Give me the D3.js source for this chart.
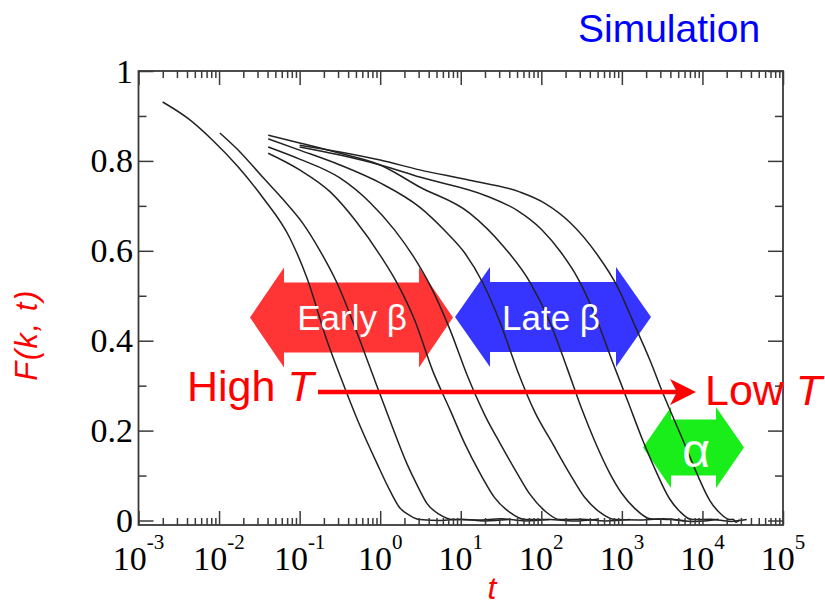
<!DOCTYPE html>
<html>
<head>
<meta charset="utf-8">
<script src="https://cdn.jsdelivr.net/npm/d3@7/dist/d3.min.js"></script>
<style>
  body { margin: 0; background: #fff; }
  text { font-family: 'Liberation Sans', Arial, sans-serif; }
  .ticklbl { font-family: 'Liberation Serif', 'Times New Roman', serif; fill: #000; }
</style>
</head>
<body>
<script>
// 0. data: each curve is [log10(t), F(k,t)]
var curve1 = [[-2.70,0.931],[-2.39,0.895],[-2.08,0.846],[-1.77,0.788],[-1.46,0.719],[-1.12,0.628],[-0.91,0.540],
  [-0.66,0.400],[-0.50,0.323],[-0.28,0.223],[-0.04,0.127],[0.12,0.067],[0.24,0.029],[0.37,0.011],[0.49,0.002],
  [0.75,0.000],[1.00,0.003],[1.30,-0.001],[1.60,0.002]];
var curve2 = [[-1.99,0.862],[-1.74,0.820],[-1.46,0.764],[-1.21,0.715],[-0.96,0.661],[-0.75,0.601],[-0.54,0.530],
  [-0.25,0.400],[-0.09,0.323],[0.12,0.223],[0.33,0.127],[0.46,0.078],[0.58,0.038],[0.74,0.013],[0.90,0.002],
  [1.20,0.001],[1.50,0.004],[1.80,-0.001],[2.10,0.002]];
var curve3 = [[-1.39,0.817],[-1.00,0.780],[-0.62,0.731],[-0.31,0.668],[0.00,0.590],[0.21,0.528],[0.43,0.445],
  [0.65,0.334],[0.87,0.245],[1.05,0.171],[1.24,0.105],[1.42,0.051],[1.61,0.018],[1.80,0.002],
  [2.10,0.002],[2.40,-0.001],[2.70,0.003]];
var curve4 = [[-1.39,0.831],[-1.00,0.804],[-0.50,0.762],[-0.13,0.708],[0.18,0.646],[0.41,0.588],[0.62,0.523],
  [0.87,0.423],[1.08,0.323],[1.30,0.234],[1.49,0.171],[1.70,0.105],[1.86,0.058],[2.04,0.022],[2.23,0.002],
  [2.50,0.003],[2.80,-0.001],[3.10,0.002]];
var curve5 = [[-1.39,0.849],[-1.00,0.824],[-0.50,0.791],[0.00,0.751],[0.49,0.697],[0.80,0.645],[1.05,0.595],
  [1.27,0.530],[1.49,0.440],[1.70,0.335],[1.92,0.241],[2.14,0.171],[2.35,0.105],[2.54,0.051],[2.73,0.018],
  [2.91,0.002],[3.20,0.001],[3.50,0.004],[3.80,-0.001]];
var curve6 = [[-1.39,0.857],[-1.00,0.840],[-0.50,0.817],[0.00,0.791],[0.49,0.742],[1.11,0.684],[1.52,0.612],
  [1.86,0.530],[2.11,0.440],[2.32,0.339],[2.50,0.249],[2.66,0.178],[2.85,0.105],[3.00,0.060],[3.16,0.027],
  [3.35,0.004],[3.60,0.002],[3.90,-0.002],[4.20,0.003]];
var curve7 = [[-1.00,0.831],[-0.50,0.813],[0.00,0.791],[0.49,0.764],[1.32,0.722],[1.70,0.690],[2.00,0.648],
  [2.25,0.595],[2.45,0.540],[2.66,0.460],[2.89,0.350],[3.07,0.267],[3.26,0.178],[3.42,0.111],[3.59,0.049],
  [3.72,0.020],[3.87,0.002],[4.10,0.003],[4.35,-0.002],[4.55,0.002]];
var curve8 = [[-1.00,0.835],[-0.50,0.820],[0.00,0.802],[0.49,0.780],[1.11,0.757],[1.73,0.731],[2.05,0.705],
  [2.35,0.664],[2.70,0.590],[2.94,0.522],[3.16,0.434],[3.35,0.356],[3.51,0.283],[3.76,0.178],[3.93,0.105],
  [4.09,0.045],[4.22,0.016],[4.34,0.002],[4.38,0.003],[4.42,-0.004],[4.46,0.002]];
var curves = [curve1, curve2, curve3, curve4, curve5, curve6, curve7, curve8];

// tick values
var decades = [-3, -2, -1, 0, 1, 2, 3, 4, 5];
var yMajor = [0, 0.2, 0.4, 0.6, 0.8, 1];
var yMajorLabels = ['0', '0.2', '0.4', '0.6', '0.8', '1'];
var yMinor = [0.1, 0.3, 0.5, 0.7, 0.9];

// 1. svg and scales
var svg = d3.select('body').append('svg').attr('width', 825).attr('height', 608);
var plotL = 138.5, plotR = 783, plotT = 71, plotB = 525;

var x = d3.scaleLog().domain([1e-3, 1e5]).range([plotL, plotR]);
var y = d3.scaleLinear().domain([-0.01, 1]).range([plotB, plotT]);

var xMajor = decades.map(function(d){ return Math.pow(10, d); });
var xMinor = [];
decades.slice(0, -1).forEach(function(d){
  for (var k = 2; k <= 9; k++) xMinor.push(k * Math.pow(10, d));
});

// 2. arrows behind the curves
function doubleArrow(x0, x1, cy, headLen, headHalf, bodyHalf){
  return 'M' + x0 + ',' + cy +
    'L' + (x0 + headLen) + ',' + (cy - headHalf) +
    'L' + (x0 + headLen) + ',' + (cy - bodyHalf) +
    'L' + (x1 - headLen) + ',' + (cy - bodyHalf) +
    'L' + (x1 - headLen) + ',' + (cy - headHalf) +
    'L' + x1 + ',' + cy +
    'L' + (x1 - headLen) + ',' + (cy + headHalf) +
    'L' + (x1 - headLen) + ',' + (cy + bodyHalf) +
    'L' + (x0 + headLen) + ',' + (cy + bodyHalf) +
    'L' + (x0 + headLen) + ',' + (cy + headHalf) + 'Z';
}
var arrowG = svg.append('g').attr('class', 'arrows');
arrowG.append('path').attr('d', doubleArrow(250, 453, 317.5, 34, 50, 35)).attr('fill', '#ff3535');
arrowG.append('path').attr('d', doubleArrow(455, 651, 317, 35, 50, 35)).attr('fill', '#3535ff');
arrowG.append('path').attr('d', doubleArrow(643, 744, 447.5, 28, 40.5, 28)).attr('fill', '#1aee1a');

// 3. curves
var line = d3.line()
  .x(function(d){ return x(Math.pow(10, d[0])); })
  .y(function(d){ return y(d[1]); })
  .curve(d3.curveMonotoneX);

svg.append('g').attr('class', 'curves')
  .selectAll('path').data(curves).enter().append('path')
  .attr('d', line)
  .attr('fill', 'none')
  .attr('stroke', '#222')
  .attr('stroke-width', 1.5);

// 4. frame with inside ticks on all four sides
var axisCol = '#3a3a3a';
function styleAxis(g){
  g.select('.domain').remove();
  g.selectAll('.tick line').attr('stroke', axisCol).attr('stroke-width', 1.5);
  g.selectAll('.tick text').remove();
}
svg.append('g').attr('transform', 'translate(0,' + plotB + ')')
  .call(d3.axisBottom(x).tickValues(xMajor).tickSize(-14)).call(styleAxis);
svg.append('g').attr('transform', 'translate(0,' + plotB + ')')
  .call(d3.axisBottom(x).tickValues(xMinor).tickSize(-7)).call(styleAxis);
svg.append('g').attr('transform', 'translate(0,' + plotT + ')')
  .call(d3.axisTop(x).tickValues(xMajor).tickSize(-14)).call(styleAxis);
svg.append('g').attr('transform', 'translate(0,' + plotT + ')')
  .call(d3.axisTop(x).tickValues(xMinor).tickSize(-7)).call(styleAxis);
svg.append('g').attr('transform', 'translate(' + plotL + ',0)')
  .call(d3.axisLeft(y).tickValues(yMajor).tickSize(-15)).call(styleAxis);
svg.append('g').attr('transform', 'translate(' + plotL + ',0)')
  .call(d3.axisLeft(y).tickValues(yMinor).tickSize(-8)).call(styleAxis);
svg.append('g').attr('transform', 'translate(' + plotR + ',0)')
  .call(d3.axisRight(y).tickValues(yMajor).tickSize(-15)).call(styleAxis);
svg.append('g').attr('transform', 'translate(' + plotR + ',0)')
  .call(d3.axisRight(y).tickValues(yMinor).tickSize(-8)).call(styleAxis);

svg.append('rect')
  .attr('x', plotL).attr('y', plotT)
  .attr('width', plotR - plotL).attr('height', plotB - plotT)
  .attr('fill', 'none').attr('stroke', axisCol).attr('stroke-width', 1.8);

// 5. tick labels
var xl = svg.append('g').attr('class', 'xlabels')
  .selectAll('text').data(decades).enter().append('text')
  .attr('class', 'ticklbl')
  .attr('x', function(d){ return x(Math.pow(10, d)); })
  .attr('y', 570)
  .attr('text-anchor', 'middle')
  .style('font-size', '34px');
xl.append('tspan').text('10');
xl.append('tspan').attr('dy', -21).style('font-size', '21px').text(function(d){ return d; });

svg.append('g').attr('class', 'ylabels')
  .selectAll('text').data(yMajor).enter().append('text')
  .attr('class', 'ticklbl')
  .attr('x', 133)
  .attr('y', function(d){ return y(d); })
  .attr('dy', '0.34em')
  .attr('text-anchor', 'end')
  .style('font-size', '34px')
  .text(function(d, i){ return yMajorLabels[i]; });

// 6. axis titles
svg.append('text')
  .attr('transform', 'translate(37,335) rotate(-90)')
  .attr('text-anchor', 'middle')
  .attr('fill', '#ff0000')
  .style('font-size', '31px').style('font-style', 'italic').style('letter-spacing', '1.5px')
  .text('F(k, t)');

svg.append('text')
  .attr('x', 492).attr('y', 599)
  .attr('text-anchor', 'middle')
  .attr('fill', '#ff0000')
  .style('font-size', '32px').style('font-style', 'italic')
  .text('t');

svg.append('text')
  .attr('x', 578).attr('y', 42)
  .attr('fill', '#0000ff')
  .style('font-size', '39px')
  .text('Simulation');

// 7. High T -> Low T arrow over the curves
svg.append('line')
  .attr('x1', 318).attr('x2', 682).attr('y1', 392).attr('y2', 392)
  .attr('stroke', '#ff0000').attr('stroke-width', 4.5);
svg.append('path')
  .attr('d', 'M696,392 L670,379 L677,392 L670,405 Z')
  .attr('fill', '#ff0000');

var high = svg.append('text').attr('x', 187).attr('y', 401).attr('fill', '#ff0000').style('font-size', '43px');
high.append('tspan').text('High ');
high.append('tspan').style('font-style', 'italic').text('T');
var low = svg.append('text').attr('x', 705).attr('y', 405).attr('fill', '#ff0000').style('font-size', '43px');
low.append('tspan').text('Low ');
low.append('tspan').style('font-style', 'italic').text('T');

// 8. arrow labels
svg.append('text').attr('x', 352).attr('y', 330).attr('text-anchor', 'middle')
  .attr('fill', '#fff').style('font-size', '35px').text('Early β');
svg.append('text').attr('x', 551).attr('y', 330).attr('text-anchor', 'middle')
  .attr('fill', '#fff').style('font-size', '35px').text('Late β');
svg.append('text').attr('x', 696).attr('y', 467).attr('text-anchor', 'middle')
  .attr('fill', '#fff').style('font-size', '48px').text('α');
</script>
</body>
</html>
